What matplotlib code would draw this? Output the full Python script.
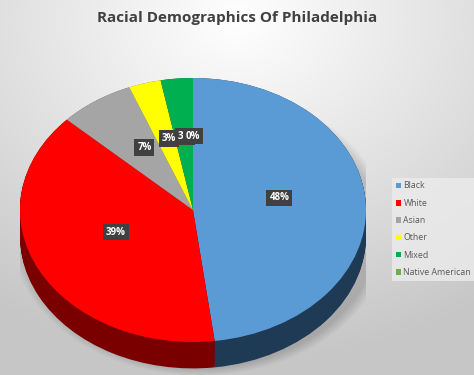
import numpy as np
import matplotlib.pyplot as plt
from matplotlib.patches import Rectangle, Ellipse

# data
groups = ["Black", "White", "Asian", "Other", "Mixed", "Native American"]
shares = [48, 39, 7, 3, 3, 0]
top_colors = ["#5B9BD5", "#FF0000", "#A5A5A5", "#FFFF00", "#00B050", "#70AD47"]
side_colors = ["#1F3A55", "#7A0000", "#5a5a5a", "#8a8a00", "#005a2c", "#3b5f25"]
title = "Racial Demographics Of Philadelphia"

fig = plt.figure(figsize=(4.74, 3.75), dpi=100)

# background gradient
bg = fig.add_axes([0, 0, 1, 1])
yy, xx = np.mgrid[0:375, 0:474]
d = np.sqrt(((xx - 237) / 474.0) ** 2 + ((yy - 20) / 375.0) ** 2)
shade = 1.0 - 0.22 * np.clip(d / 0.9, 0, 1)
bg.imshow(np.dstack([shade] * 3), extent=[0, 1, 0, 1], aspect="auto")
bg.axis("off")

# pie axes: x spans the pie width, y stretched to give the tilted look
ax = fig.add_axes([20 / 474, 0, 346 / 474, 297 / 375])

# soft shadow under the pie
for k in range(12):
    ax.add_patch(Ellipse((0.04, -0.16), 2.06 + k * 0.012, 2.06 + k * 0.012,
                         facecolor="black", alpha=0.012, lw=0))

# side of the pie, stacked darker layers
for off in np.linspace(-0.2, 0, 30):
    ax.pie(shares, colors=side_colors, startangle=90, counterclock=False,
           center=(0, off), radius=1, wedgeprops=dict(linewidth=0))

wedges, _ = ax.pie(shares, colors=top_colors, startangle=90, counterclock=False,
                   radius=1, wedgeprops=dict(linewidth=0))

ax.set_aspect("auto")
ax.set_xlim(-1, 1)
ax.set_ylim(-1.25, 1)
ax.axis("off")

# percentage labels
for w, v in zip(wedges, shares):
    mid = np.deg2rad((w.theta1 + w.theta2) / 2)
    ax.text(0.5 * np.cos(mid), 0.5 * np.sin(mid) + 0.06, f"{v}%",
            ha="center", va="center", color="white", fontsize=7,
            fontweight="bold", family="Open Sans",
            bbox=dict(boxstyle="square,pad=0.3", facecolor="#404040",
                      edgecolor="none"))

fig.text(0.5, 1 - 18 / 375, title, ha="center", va="center",
         fontsize=11, fontweight="bold", color="#404040", family="Open Sans")

handles = [Rectangle((0, 0), 1, 1, facecolor=c, edgecolor="none") for c in top_colors]
leg = fig.legend(handles, groups, loc="upper left",
                 bbox_to_anchor=(392 / 474, 1 - 178 / 375), borderaxespad=0,
                 handlelength=0.6, handleheight=0.6,
                 handletextpad=0.3, labelspacing=0.95, frameon=True,
                 facecolor="#ececec", edgecolor="none", framealpha=0.8,
                 fancybox=False, prop=dict(family="Open Sans", size=6.3))
for t in leg.get_texts():
    t.set_color("#595959")

fig.savefig("out.png", dpi=100)
